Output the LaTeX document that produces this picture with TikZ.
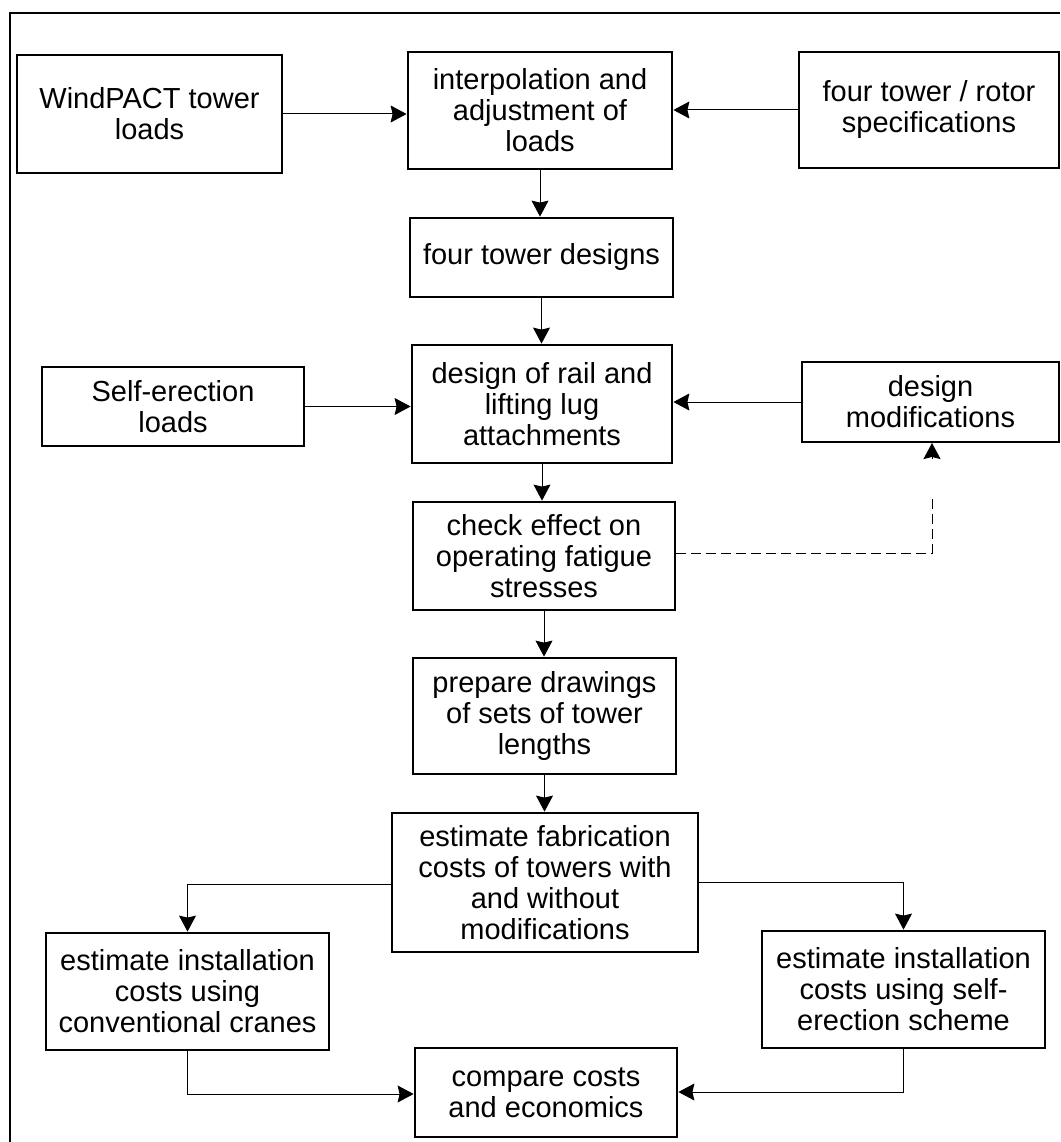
\documentclass[tikz,border=0pt]{standalone}
\usepackage{fontspec}
\setmainfont{Liberation Sans}
\usetikzlibrary{arrows.meta}
\tikzset{
  box/.style={draw, line width=2.8pt, align=center, inner sep=0pt,
    font=\fontsize{29}{31}\selectfont},
  conn/.style={line width=1pt, -{Stealth[inset=2pt,length=16pt,width=17pt]}},
  dline/.style={line width=1pt, dash pattern=on 10pt off 5pt},
  frame/.style={line width=1.6pt}
}
\begin{document}
\begin{tikzpicture}[x=1pt,y=-1pt]
\useasboundingbox (0,0) rectangle (1060,1142);
\draw[frame] (10,1142) -- (10,13) -- (1060,13);

\node[box, minimum width=265pt, minimum height=118pt] (wind) at (149.5,114) {WindPACT tower\\loads};
\node[box, minimum width=264pt, minimum height=117pt] (interp) at (540,110.5) {interpolation and\\adjustment of\\loads};
\node[box, minimum width=260pt, minimum height=116pt] (rotor) at (929,110) {four tower / rotor\\specifications};
\node[box, minimum width=263pt, minimum height=79pt] (towers) at (541.5,257.5) {four tower designs};
\node[box, minimum width=260pt, minimum height=118pt] (rail) at (542,404) {design of rail and\\lifting lug\\attachments};
\node[box, minimum width=262pt, minimum height=79pt] (selfer) at (173,406.5) {Self-erection\\loads};
\node[box, minimum width=257pt, minimum height=80pt] (mods) at (930.5,402) {design\\modifications};
\node[box, minimum width=262pt, minimum height=108pt] (check) at (544,556) {check effect on\\operating fatigue\\stresses};
\node[box, minimum width=263pt, minimum height=116pt] (prep) at (544.5,716) {prepare drawings\\of sets of tower\\lengths};
\node[box, minimum width=306pt, minimum height=139pt] (fab) at (545,882.5) {estimate fabrication\\costs of towers with\\and without\\modifications};
\node[box, minimum width=283pt, minimum height=117pt] (inst1) at (187.5,991.5) {estimate installation\\costs using\\conventional cranes};
\node[box, minimum width=283pt, minimum height=117pt] (inst2) at (903.5,989.5) {estimate installation\\costs using self-\\erection scheme};
\node[box, minimum width=262pt, minimum height=89pt] (comp) at (546,1092.5) {compare costs\\and economics};

\draw[conn] (wind.east) -- (interp.west |- wind.east);
\draw[conn] (rotor.west) -- (interp.east |- rotor.west);
\draw[conn] (interp.south) -- (towers.north -| interp.south);
\draw[conn] (towers.south) -- (rail.north -| towers.south);
\draw[conn] (selfer.east) -- (rail.west |- selfer.east);
\draw[conn] (mods.west) -- (rail.east |- mods.west);
\draw[conn] (rail.south) -- (check.north -| rail.south);
\draw[conn] (check.south) -- (prep.north -| check.south);
\draw[conn] (prep.south) -- (fab.north -| prep.south);
\draw[conn] (fab.west |- 0,884) -| (inst1.north);
\draw[conn] (fab.east |- 0,882) -| (inst2.north);
\draw[conn] (inst1.south) |- (comp.west |- 0,1094);
\draw[conn] (inst2.south) |- (comp.east |- 0,1092);

\coordinate (dtop) at (932,495);
\coordinate (tiptop) at (932,443);
\coordinate (tipbase) at (932,459);
\draw[dline] (check.east |- 0,553) -| (dtop);
\draw[conn] (tipbase) -- (tiptop);
\end{tikzpicture}
\end{document}
